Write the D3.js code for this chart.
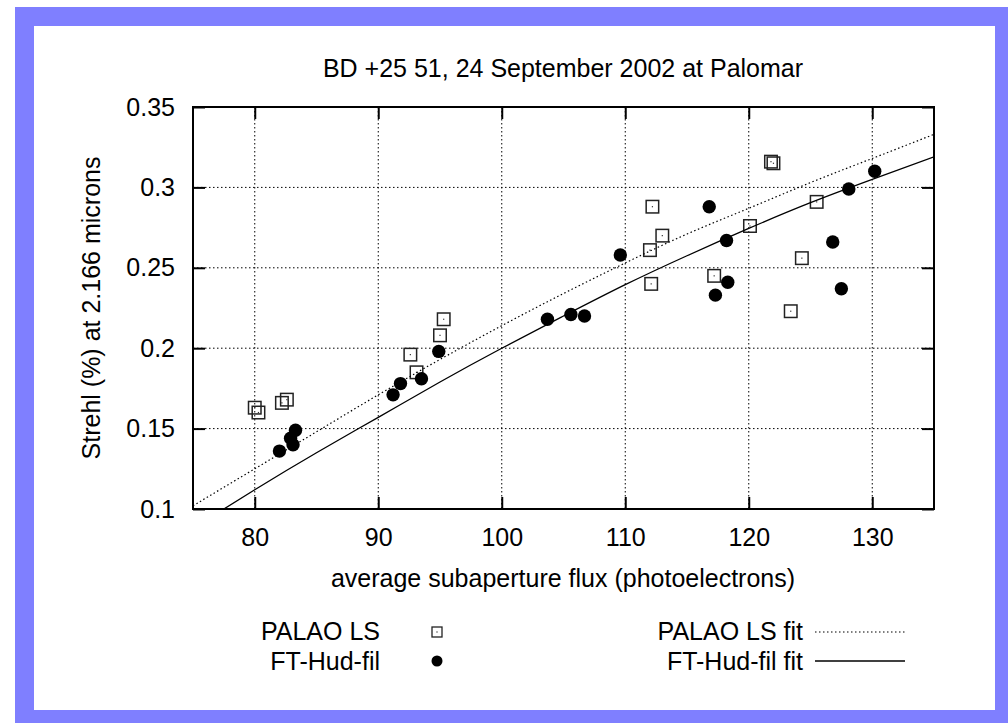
<!DOCTYPE html>
<head>
  <title>Strehl vs subaperture flux</title>
  <meta charset="utf-8">
  <script src="https://d3js.org/d3.v7.min.js"></script>

  <style>
    body { margin: 0; background: #fff; }
    text { font-family: "Liberation Sans", Arial, Helvetica, sans-serif; font-size: 25px; fill: #000; }
    .grid line { stroke: #000; stroke-width: 1; stroke-dasharray: 1.5,2.5; }
  </style>

</head>
<body>

  <svg width="1008" height="723"></svg>

  <script>

  // Data
  var palaoX = [80.0, 80.3, 82.2, 82.6, 95.3, 95.0, 92.6, 93.1, 112.2, 113.0, 112.0, 112.1,
                121.8, 122.0, 125.5, 120.1, 124.3, 117.2, 123.4];
  var palaoY = [0.163, 0.160, 0.166, 0.168, 0.218, 0.208, 0.196, 0.185, 0.288, 0.270, 0.261, 0.240,
                0.316, 0.315, 0.291, 0.276, 0.256, 0.245, 0.223];

  var ftX = [83.3, 82.9, 83.1, 82.0, 94.9, 93.5, 91.8, 91.2, 109.6, 103.7, 105.6, 106.7,
             116.8, 130.2, 128.1, 118.2, 126.8, 118.3, 117.3, 127.5];
  var ftY = [0.149, 0.144, 0.140, 0.136, 0.198, 0.181, 0.178, 0.171, 0.258, 0.218, 0.221, 0.220,
             0.288, 0.310, 0.299, 0.267, 0.266, 0.241, 0.233, 0.237];

  // fit curves
  var fitX = [75, 80, 85, 90, 95, 100, 105, 110, 115, 120, 125, 130, 135];
  var palaoFitY = [0.102, 0.125, 0.148, 0.171, 0.193, 0.214, 0.234, 0.253, 0.271, 0.287, 0.303, 0.318, 0.333];
  var ftFitY = [0.088, 0.112, 0.135, 0.157, 0.179, 0.200, 0.220, 0.2395, 0.2575, 0.2745, 0.2905, 0.305, 0.319];

  var xTicks = [80, 90, 100, 110, 120, 130];
  var yTicks = [0.1, 0.15, 0.2, 0.25, 0.3, 0.35];

  var title = 'BD +25 51, 24 September 2002 at Palomar';
  var xLabel = 'average subaperture flux (photoelectrons)';
  var yLabel = 'Strehl (%) at 2.166 microns';

  var svg = d3.select('svg');
  var margin = {left: 193, top: 107, right: 934, bottom: 509};
  var width = margin.right - margin.left;
  var height = margin.bottom - margin.top;

  // Blue frame
  svg.append('rect').attr('x', 15).attr('y', 7).attr('width', 993).attr('height', 716).attr('fill', '#7f7fff');
  svg.append('rect').attr('x', 34).attr('y', 26).attr('width', 961).attr('height', 684).attr('fill', '#fff');

  var x = d3.scaleLinear().domain([75, 135]).range([0, width]);
  var y = d3.scaleLinear().domain([0.1, 0.35]).range([height, 0]);

  var g = svg.append('g')
  .attr('transform', 'translate(' + margin.left + ',' + margin.top + ')');

  svg.append('defs').append('clipPath').attr('id', 'clip')
  .append('rect').attr('width', width).attr('height', height);

  // Grid
  var grid = g.append('g').attr('class', 'grid');
  grid.selectAll('.vx').data(xTicks).enter().append('line')
  .attr('x1', function(d) { return x(d); }).attr('x2', function(d) { return x(d); })
  .attr('y1', 0).attr('y2', height);
  grid.selectAll('.hy').data(yTicks.slice(1, -1)).enter().append('line')
  .attr('x1', 0).attr('x2', width)
  .attr('y1', function(d) { return y(d); }).attr('y2', function(d) { return y(d); });

  // Axes (ticks inward, mirrored)
  var tl = 12;
  g.append('g').attr('transform', 'translate(0,' + height + ')')
  .call(d3.axisBottom(x).tickValues(xTicks).tickSizeInner(-tl).tickSizeOuter(0).tickPadding(tl + 7));
  g.append('g').call(d3.axisTop(x).tickValues(xTicks).tickSizeInner(-tl).tickSizeOuter(0).tickFormat(''));
  g.append('g')
  .call(d3.axisLeft(y).tickValues(yTicks).tickSizeInner(-tl).tickSizeOuter(0).tickPadding(tl + 6)
    .tickFormat(function(d) { return d3.format('.2~f')(d); }));
  g.append('g').attr('transform', 'translate(' + width + ',0)')
  .call(d3.axisRight(y).tickValues(yTicks).tickSizeInner(-tl).tickSizeOuter(0).tickFormat(''));

  g.selectAll('.domain').remove();
  g.selectAll('.tick line').attr('stroke', '#000').attr('stroke-width', 2);
  g.selectAll('.tick text').style('font-size', '25px').attr('fill', '#000');

  g.append('rect').attr('width', width).attr('height', height)
  .attr('fill', 'none').attr('stroke', '#000').attr('stroke-width', 2);

  // Points
  var sq = 12.5;
  var pts = g.append('g');
  palaoX.forEach(function(v, i) {
    pts.append('rect')
    .attr('x', x(v) - sq / 2).attr('y', y(palaoY[i]) - sq / 2)
    .attr('width', sq).attr('height', sq)
    .attr('fill', 'none').attr('stroke', '#222').attr('stroke-width', 1.5);
    pts.append('rect')
    .attr('x', x(v) - 0.6).attr('y', y(palaoY[i]) - 0.6)
    .attr('width', 1.2).attr('height', 1.2).attr('fill', '#333');
  });
  ftX.forEach(function(v, i) {
    pts.append('circle')
    .attr('cx', x(v)).attr('cy', y(ftY[i])).attr('r', 6.7).attr('fill', '#000');
  });

  // Fit lines
  var line = function(ys) {
    return d3.line().curve(d3.curveNatural)
    .x(function(d, i) { return x(fitX[i]); })
    .y(function(d) { return y(d); })(ys);
  };
  var fits = g.append('g').attr('clip-path', 'url(#clip)');
  fits.append('path').attr('d', line(palaoFitY))
  .attr('fill', 'none').attr('stroke', '#000').attr('stroke-width', 1.2).attr('stroke-dasharray', '1.5,2.5');
  fits.append('path').attr('d', line(ftFitY))
  .attr('fill', 'none').attr('stroke', '#000').attr('stroke-width', 1.3);

  // Labels
  svg.append('text').attr('x', 563).attr('y', 77).attr('text-anchor', 'middle').text(title);
  svg.append('text').attr('x', 563).attr('y', 587).attr('text-anchor', 'middle').text(xLabel);
  svg.append('text').attr('transform', 'translate(100,308) rotate(-90)').attr('text-anchor', 'middle').text(yLabel);

  // Legend
  var leg = svg.append('g');
  leg.append('text').attr('x', 380).attr('y', 640).attr('text-anchor', 'end').text('PALAO LS');
  leg.append('text').attr('x', 380).attr('y', 670).attr('text-anchor', 'end').text('FT-Hud-fil');
  leg.append('rect').attr('x', 432).attr('y', 627).attr('width', 10).attr('height', 10)
  .attr('fill', 'none').attr('stroke', '#222').attr('stroke-width', 1.3);
  leg.append('rect').attr('x', 436.4).attr('y', 631.4).attr('width', 1.2).attr('height', 1.2).attr('fill', '#333');
  leg.append('circle').attr('cx', 437).attr('cy', 661).attr('r', 5.5).attr('fill', '#000');

  leg.append('text').attr('x', 803).attr('y', 640).attr('text-anchor', 'end').text('PALAO LS fit');
  leg.append('text').attr('x', 803).attr('y', 670).attr('text-anchor', 'end').text('FT-Hud-fil fit');
  leg.append('line').attr('x1', 815).attr('x2', 905).attr('y1', 632).attr('y2', 632)
  .attr('stroke', '#000').attr('stroke-width', 1.2).attr('stroke-dasharray', '1.5,2.5');
  leg.append('line').attr('x1', 815).attr('x2', 905).attr('y1', 661).attr('y2', 661)
  .attr('stroke', '#000').attr('stroke-width', 1.3);

  </script>

</body>
